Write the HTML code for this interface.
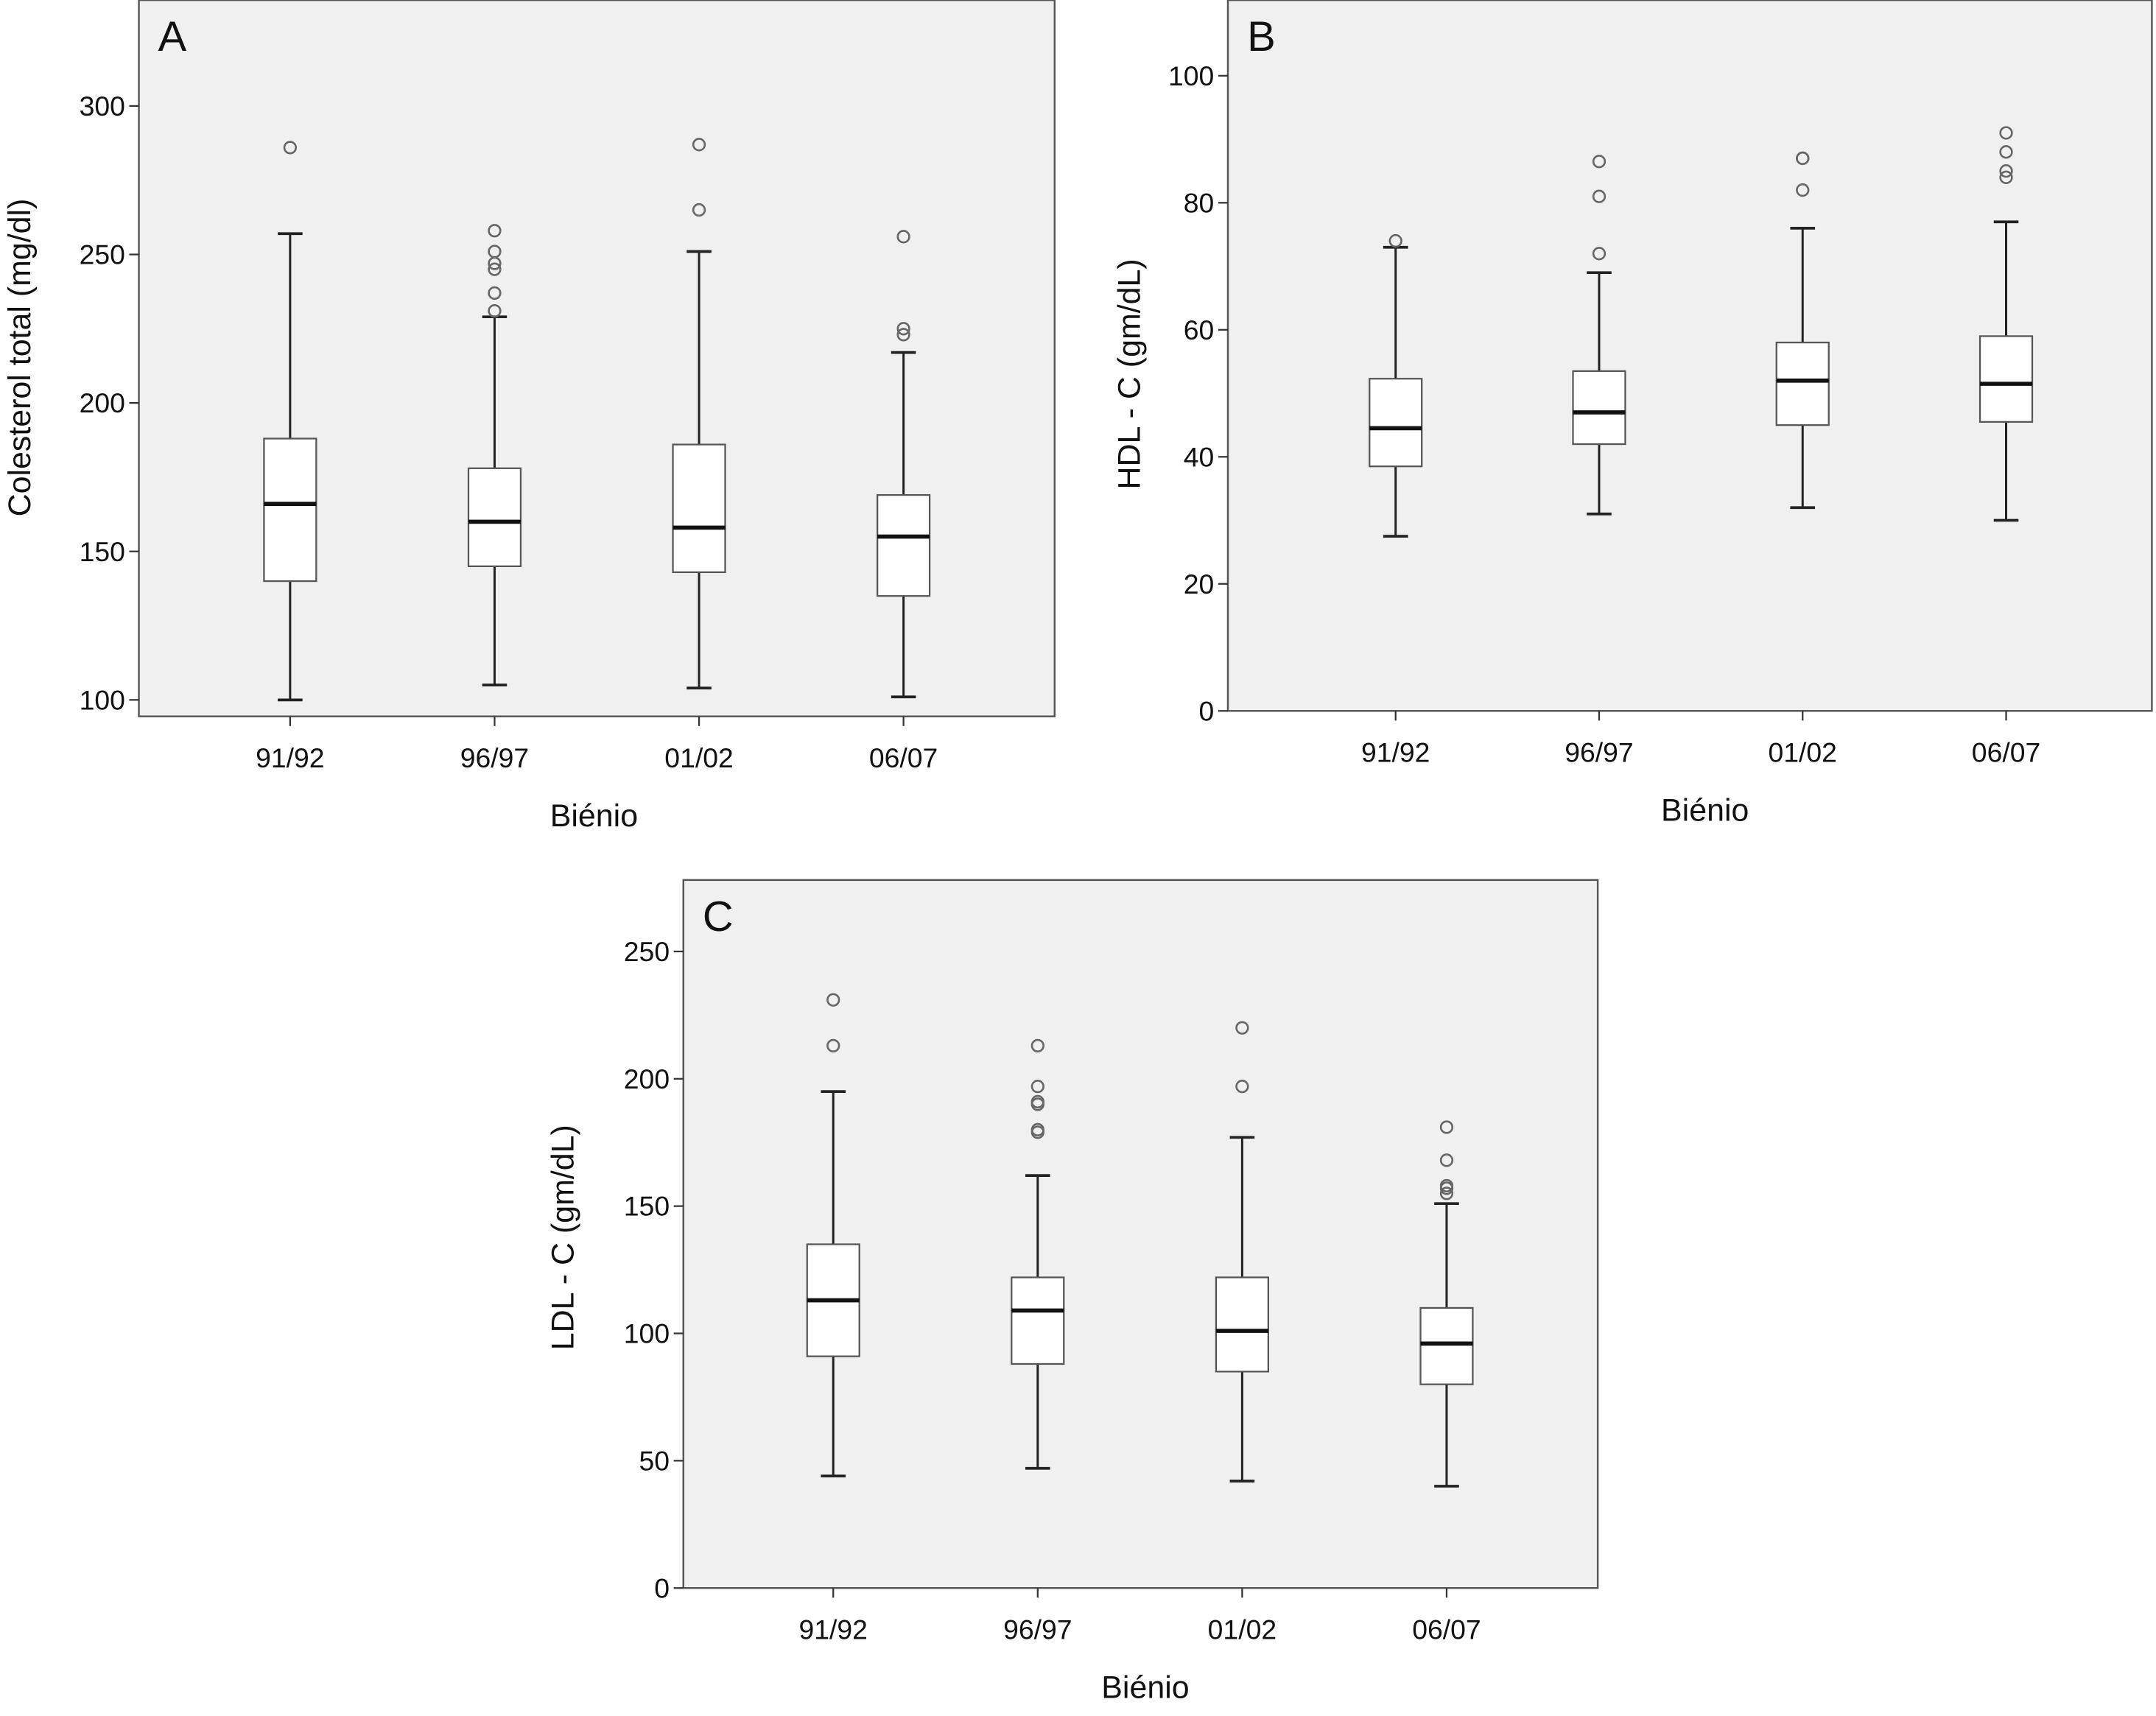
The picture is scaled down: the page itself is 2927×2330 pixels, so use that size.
<!DOCTYPE html>
<html><head><meta charset="utf-8"><style>
html,body{margin:0;padding:0;background:#fff}
svg{display:block}
text{font-family:"Liberation Sans",Arial,sans-serif;fill:#111}
</style></head><body>
<svg id="s" width="2927" height="2330" viewBox="0 0 1568 1248" xmlns="http://www.w3.org/2000/svg"></svg>
<script>
const categories = ["91/92","96/97","01/02","06/07"];
const A_stats = [[100,140,166,188,257],[105,145,160,178,229],[104,143,158,186,251],[101,135,155,169,217]];
const A_out = [[286],[231,237,245,247,251,258],[265,287],[223,225,256]];
const A_ticks = [100,150,200,250,300];
const B_stats = [[27.5,38.5,44.5,52.3,73],[31,42,47,53.5,69],[32,45,52,58,76],[30,45.5,51.5,59,77]];
const B_out = [[74],[72,81,86.5],[82,87,87],[84,85,88,91]];
const B_ticks = [0,20,40,60,80,100];
const C_stats = [[44,91,113,135,195],[47,88,109,122,162],[42,85,101,122,177],[40,80,96,110,151]];
const C_out = [[213,231],[179,180,190,191,197,213],[197,220],[155,157,158,168,181]];
const C_ticks = [0,50,100,150,200,250];

const NS="http://www.w3.org/2000/svg";
const svg=document.getElementById('s');
function mk(tag,attrs,parent,txt){const e=document.createElementNS(NS,tag);for(const k in attrs)e.setAttribute(k,attrs[k]);if(txt!==undefined)e.textContent=txt;(parent||svg).appendChild(e);return e;}

function panel(p){
  const g=mk('g',{});
  
  
  const y=v=>p.y0px+(v-p.v0)*(p.y1px-p.y0px)/(p.v1-p.v0);
  const x=i=>p.cx0+i*p.dx;
  const bg=mk('rect',{x:p.L,y:p.T,width:p.R-p.L,height:p.B-p.T,fill:'#f0f0f0',stroke:'#555','stroke-width':1.3},g);
  
  
  const lt=mk('text',{x:p.L+14,y:p.T+37,'font-size':31},g,p.letter);
  
  
  p.ticks.forEach(t=>{
    mk('line',{x1:p.L-7,x2:p.L,y1:y(t),y2:y(t),stroke:'#333','stroke-width':1.2},g);
    const tl=mk('text',{x:p.L-10,y:y(t)+7,'font-size':20,'text-anchor':'end'},g,t);
    
    
  });
  categories.forEach((c,i)=>{
    mk('line',{x1:x(i),x2:x(i),y1:p.B,y2:p.B+7,stroke:'#333','stroke-width':1.2},g);
    const tl=mk('text',{x:x(i),y:p.B+37,'font-size':20,'text-anchor':'middle'},g,c);
    
    
    const s=p.stats[i],w=19;
    const bx=mk('g',{},g);
    
    
    mk('line',{x1:x(i),x2:x(i),y1:y(s[0]),y2:y(s[4]),stroke:'#222','stroke-width':1.6},bx);
    mk('line',{x1:x(i)-9,x2:x(i)+9,y1:y(s[0]),y2:y(s[0]),stroke:'#222','stroke-width':2},bx);
    mk('line',{x1:x(i)-9,x2:x(i)+9,y1:y(s[4]),y2:y(s[4]),stroke:'#222','stroke-width':2},bx);
    mk('rect',{x:x(i)-w,y:y(s[3]),width:2*w,height:y(s[1])-y(s[3]),fill:'#fff',stroke:'#555','stroke-width':1.2},bx);
    mk('line',{x1:x(i)-w,x2:x(i)+w,y1:y(s[2]),y2:y(s[2]),stroke:'#111','stroke-width':3},bx);
    p.out[i].forEach(o=>{
      const c2=mk('circle',{cx:x(i),cy:y(o),r:4.2,fill:'none',stroke:'#666','stroke-width':1.4},bx);
      
      
    });
  });
  const xl=mk('text',{x:p.xlx,y:p.B+80,'font-size':23,'text-anchor':'middle'},g,'Biénio');
  
  
  const yl=mk('text',{x:0,y:0,'font-size':23,'text-anchor':'middle',transform:`translate(${p.ylx},${p.yly}) rotate(-90)`},g,p.ylabel);
  
  
}
panel({letter:'A',L:101,R:767,T:0,B:521,v0:100,v1:300,y0px:509,y1px:77,cx0:211,dx:148.7,stats:A_stats,out:A_out,ticks:A_ticks,xlx:432,ylx:22,yly:260,ylabel:'Colesterol total (mg/dl)'});
panel({letter:'B',L:893,R:1565,T:0,B:517,v0:0,v1:100,y0px:517,y1px:55,cx0:1015,dx:148,stats:B_stats,out:B_out,ticks:B_ticks,xlx:1240,ylx:829,yly:272,ylabel:'HDL - C (gm/dL)'});
panel({letter:'C',L:497,R:1162,T:640,B:1155,v0:0,v1:250,y0px:1155,y1px:692,cx0:606,dx:148.7,stats:C_stats,out:C_out,ticks:C_ticks,xlx:833,ylx:417,yly:900,ylabel:'LDL - C (gm/dL)'});
</script>
</body></html>
